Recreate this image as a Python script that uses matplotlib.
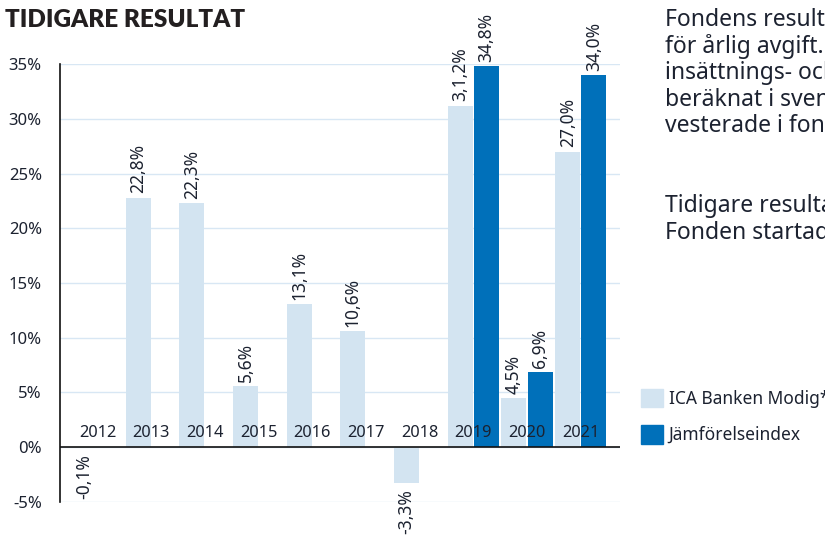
import numpy as np
import matplotlib.pyplot as plt
from matplotlib.patches import Patch

plt.rcParams['font.family'] = ['Noto Sans', 'DejaVu Sans']

# data
years = ['2012', '2013', '2014', '2015', '2016', '2017', '2018', '2019', '2020', '2021']
fond = [-0.1, 22.8, 22.3, 5.6, 13.1, 10.6, -3.3, 31.2, 4.5, 27.0]
fond_labels = ['-0,1%', '22,8%', '22,3%', '5,6%', '13,1%', '10,6%', '-3,3%', '3,1,2%', '4,5%', '27,0%']
index_years = ['2019', '2020', '2021']
index_vals = [34.8, 6.9, 34.0]
index_labels = ['34,8%', '6,9%', '34,0%']
yticks = [-5, 0, 5, 10, 15, 20, 25, 30, 35]

light = '#d3e4f1'
dark = '#0070ba'
txt = '#1c2230'
grid = '#d8e7f4'

fig = plt.figure(figsize=(8.25, 5.37), dpi=100)
ax = fig.add_axes([0.0727, 0.0652, 0.6788, 0.8156])

x = np.arange(len(years))
w = 0.465
off = 0.245
xi = np.array([years.index(y) for y in index_years])

b1 = ax.bar(x - off, fond, w, color=light, zorder=2)
b2 = ax.bar(xi + off, index_vals, w, color=dark, zorder=2)

for bars, labs in ((b1, fond_labels), (b2, index_labels)):
    for rect, lab in zip(bars, labs):
        h = rect.get_height()
        cx = rect.get_x() + rect.get_width() / 2
        if h >= 0:
            ax.annotate(lab, (cx, h), xytext=(0, 3), textcoords='offset points',
                        rotation=90, ha='center', va='bottom', fontsize=12.5,
                        color=txt, annotation_clip=False)
        else:
            ax.annotate(lab, (cx, h), xytext=(0, -4), textcoords='offset points',
                        rotation=90, ha='center', va='top', fontsize=12.5,
                        color=txt, annotation_clip=False)

for i, y in enumerate(years):
    ax.annotate(y, (i, 0), xytext=(0, 10), textcoords='offset points',
                ha='center', va='center', fontsize=11.8, color=txt, zorder=4)

ax.set_xlim(-0.7, len(years) - 0.27)
ax.set_ylim(-5, 35)
ax.set_yticks(yticks)
ax.set_yticklabels([f'{t}%' for t in yticks], fontsize=12, color=txt)
ax.set_xticks([])
ax.tick_params(axis='y', length=0, pad=13)
ax.yaxis.grid(True, color=grid, linewidth=1, zorder=0)
ax.set_axisbelow(True)
ax.axhline(0, color='#111111', linewidth=1.2, zorder=3)
for s in ('top', 'right', 'bottom'):
    ax.spines[s].set_visible(False)
ax.spines['left'].set_color('#111111')
ax.spines['left'].set_linewidth(1.2)

fig.text(0.006, 0.962, 'TIDIGARE RESULTAT', fontsize=17.5, fontweight='heavy',
         color='#231f20', va='center', family=['Lato', 'DejaVu Sans'])

side = ['Fondens resultat', 'för årlig avgift.', 'insättnings- och', 'beräknat i svenska',
        'vesterade i fonden.', '', '', 'Tidigare resultat', 'Fonden startade']
for k, line in enumerate(side):
    fig.text(665 / 825, 1 - (20 + k * 26.6) / 537, line, fontsize=16.5,
             color=txt, va='center')

handles = [Patch(color=light, label='ICA Banken Modig*'),
           Patch(color=dark, label='Jämförelseindex')]
fig.legend(handles=handles, loc='upper left', bbox_to_anchor=(625 / 825, 1 - 373 / 537),
           frameon=False, fontsize=12.5, handlelength=1.27, handleheight=1.27,
           handletextpad=0.35, labelspacing=1.0, labelcolor=txt)

fig.savefig('out.png', dpi=100)
